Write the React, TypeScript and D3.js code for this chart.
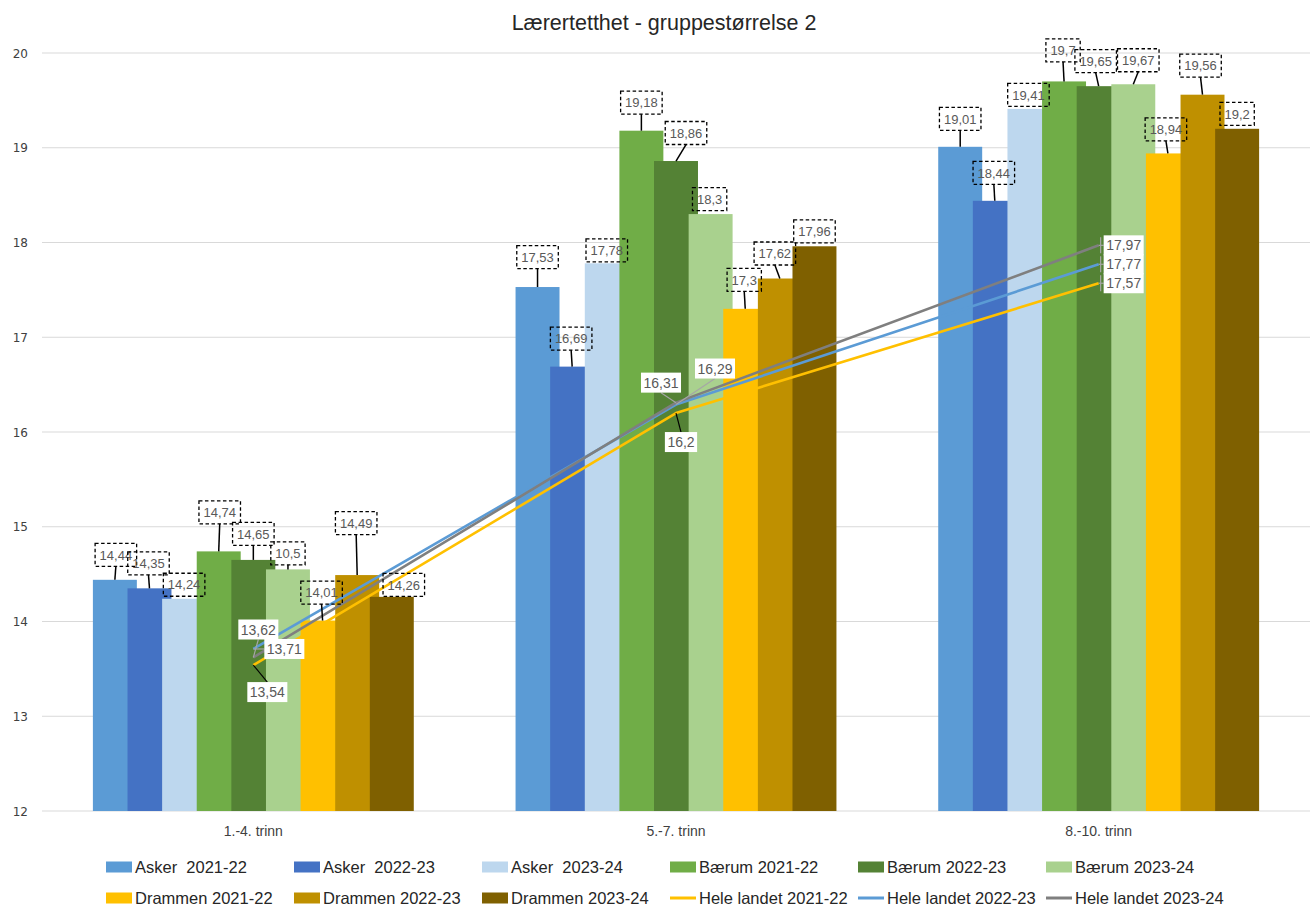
import React from 'react';
import * as d3 from 'd3';

const categories = ['1.-4. trinn', '5.-7. trinn', '8.-10. trinn'];

const barNames = [
  'Asker  2021-22', 'Asker  2022-23', 'Asker  2023-24',
  'Bærum 2021-22', 'Bærum 2022-23', 'Bærum 2023-24',
  'Drammen 2021-22', 'Drammen 2022-23', 'Drammen 2023-24',
];
const askerA = [14.44, 17.53, 19.01];
const askerB = [14.35, 16.69, 18.44];
const askerC = [14.24, 17.78, 19.41];
const baerumA = [14.74, 19.18, 19.7];
const baerumB = [14.65, 18.86, 19.65];
const baerumC = [14.55, 18.3, 19.67];
const drammenA = [14.01, 17.3, 18.94];
const drammenB = [14.49, 17.62, 19.56];
const drammenC = [14.26, 17.96, 19.2];
const barValues = [askerA, askerB, askerC, baerumA, baerumB, baerumC, drammenA, drammenB, drammenC];
// label text as printed in the chart (one label differs from its bar)
const barLabelOverride: (string | null)[][] = [
  [null, null, null], [null, null, null], [null, null, null],
  [null, null, null], [null, null, null], ['10,5', null, null],
  [null, null, null], [null, null, null], [null, null, null],
];
const barColors = ['#5B9BD5', '#4472C4', '#BDD7EE', '#70AD47', '#548235', '#A9D18E', '#FFC000', '#BF9000', '#7F6000'];

const lineNames = ['Hele landet 2021-22', 'Hele landet 2022-23', 'Hele landet 2023-24'];
const heleA = [13.54, 16.2, 17.57];
const heleB = [13.71, 16.29, 17.77];
const heleC = [13.62, 16.31, 17.97];
const lineValues = [heleA, heleB, heleC];
const lineColors = ['#FFC000', '#5B9BD5', '#7F7F7F'];

const yTicks = [12, 13, 14, 15, 16, 17, 18, 19, 20];

// layout: label box offsets [dx, dy] relative to bar top centre, per series per group
const barLabelOffsets: number[][][] = [
  [[1, -25], [0, -30], [0, -28]],
  [[-1, -25], [-1, -28], [-1, -28]],
  [[0, -14], [0, -13], [-1, -14]],
  [[1, -39], [0, -28], [-1, -31]],
  [[0, -26], [10, -28], [-3, -25]],
  [[0, -16], [-1, -15], [5, -24]],
  [[-1, -28], [-1, -29], [-2, -24]],
  [[-1, -52], [-5, -25], [-2, -29]],
  [[12, -12], [0, -15], [0, -15]],
];
// layout: line label offsets [dx, dy] relative to the point
const lineLabelOffsets: number[][][] = [
  [[14, 27], [5, 29], [25, 0]],
  [[31, 0], [39, -36], [25, 0]],
  [[5, -28], [-15, -20], [25, 0]],
];
const lineLeaderDark = [
  [true, true, false],
  [false, false, false],
  [false, false, false],
];

const W = 1314;
const H = 907;
const FONT = 'Liberation Sans, Arial, sans-serif';

const fmt = (v: number) => String(v).replace('.', ',');
const textW = (s: string, fs: number) =>
  s.split('').reduce((a, c) => a + (c === ',' || c === '.' ? 0.278 : 0.556), 0) * fs;

export default function App() {
  const left = 42, right = 1310, top = 53, bottom = 811;
  const y = d3.scaleLinear().domain([12, 20]).range([bottom, top]);
  const x0 = d3.scaleBand<string>().domain(categories).range([left, right]).padding(0);
  const bw = x0.bandwidth();
  const step = bw * 0.0819;
  const barW = bw * 0.104;
  const center = (g: number) => (x0(categories[g]) as number) + bw / 2;
  const barCx = (s: number, g: number) => center(g) + (s - (barNames.length - 1) / 2) * step;

  const line = d3.line<number>().x((_, i) => center(i)).y((d) => y(d));

  const legendItems = [
    ...barNames.map((n, i) => ({ name: n, color: barColors[i], type: 'bar' })),
    ...lineNames.map((n, i) => ({ name: n, color: lineColors[i], type: 'line' })),
  ];

  const labFs = 13;
  const lineFs = 14;

  return (
    <svg width={W} height={H} style={{ position: 'absolute', left: 0, top: 0, display: 'block', background: '#fff' }}>
      <rect x={0} y={0} width={W} height={H} fill="#fff" />
      <text x={664} y={30} textAnchor="middle" fontFamily={FONT} fontSize={21.5} fill="#262626">
        Lærertetthet - gruppestørrelse 2
      </text>

      {yTicks.map((t) => (
        <g key={t}>
          <line x1={left} x2={right} y1={y(t)} y2={y(t)} stroke="#D9D9D9" strokeWidth={1} />
          <text x={28} y={y(t) + 4.5} textAnchor="end" fontFamily="DejaVu Sans, sans-serif" fontSize={12} fill="#404040">
            {t}
          </text>
        </g>
      ))}

      {categories.map((c, g) => (
        <text key={c} x={center(g)} y={836} textAnchor="middle" fontFamily={FONT} fontSize={14} fill="#404040">
          {c}
        </text>
      ))}

      {barValues.map((vals, s) =>
        vals.map((v, g) => (
          <rect key={`b${s}-${g}`} x={barCx(s, g) - barW / 2} y={y(v)} width={barW} height={y(12) - y(v)} fill={barColors[s]} />
        ))
      )}

      {lineValues.map((vals, s) => (
        <path key={`l${s}`} d={line(vals) || ''} fill="none" stroke={lineColors[s]} strokeWidth={2.6} strokeLinejoin="round" />
      ))}

      {barValues.map((vals, s) =>
        vals.map((v, g) => {
          const label = barLabelOverride[s][g] ?? fmt(v);
          const tw = textW(label, labFs);
          const bwid = tw + 9;
          const bh = 23;
          const cx = barCx(s, g);
          const ty = y(v);
          const [dx, dy] = barLabelOffsets[s][g];
          const bx = cx + dx;
          const by = ty + dy;
          const boxBottom = by + bh / 2;
          return (
            <g key={`bl${s}-${g}`}>
              {ty - boxBottom > 4 && (
                <line x1={bx} y1={boxBottom} x2={cx} y2={ty} stroke="#000" strokeWidth={1.5} />
              )}
              <rect x={bx - bwid / 2} y={by - bh / 2} width={bwid} height={bh} fill="none" stroke="#000" strokeWidth={1.3} strokeDasharray="3.5,2.5" />
              <text x={bx} y={by + 4.7} textAnchor="middle" fontFamily={FONT} fontSize={labFs} fill="#595959">
                {label}
              </text>
            </g>
          );
        })
      )}

      {lineValues.map((vals, s) =>
        vals.map((v, g) => {
          const label = fmt(v);
          const tw = textW(label, lineFs);
          const bwid = tw + 5;
          const bh = 20;
          const px = center(g);
          const py = y(v);
          const [dx, dy] = lineLabelOffsets[s][g];
          const bx = px + dx;
          const by = py + dy;
          let lx = bx, ly = by;
          if (dy > bh / 2) { ly = by - bh / 2; }
          else if (dy < -bh / 2) { ly = by + bh / 2; }
          else { lx = bx - bwid / 2; ly = by; }
          const dark = lineLeaderDark[s][g];
          return (
            <g key={`ll${s}-${g}`}>
              <line x1={px} y1={py} x2={lx} y2={ly} stroke={dark ? '#000' : '#A6A6A6'} strokeWidth={1.2} />
              {g === 2 && (
                <path d={`M${bx - bwid / 2 - 3},${by - bh / 2 + 2} v${bh - 4}`} stroke="#A6A6A6" strokeWidth={1.2} fill="none" />
              )}
              <rect x={bx - bwid / 2} y={by - bh / 2} width={bwid} height={bh} fill="#fff" />
              <text x={bx} y={by + 5} textAnchor="middle" fontFamily={FONT} fontSize={lineFs} fill="#595959">
                {label}
              </text>
            </g>
          );
        })
      )}

      {legendItems.map((it, i) => {
        const col = i % 6;
        const row = Math.floor(i / 6);
        const lx = 106 + col * 188;
        const ly = row === 0 ? 867 : 898;
        return (
          <g key={`lg${i}`}>
            {it.type === 'bar' ? (
              <rect x={lx} y={ly - 5.5} width={26} height={11} fill={it.color} />
            ) : (
              <line x1={lx} x2={lx + 26} y1={ly} y2={ly} stroke={it.color} strokeWidth={3} />
            )}
            <text x={lx + 29} y={ly + 6} fontFamily={FONT} fontSize={16.5} fill="#262626" style={{ whiteSpace: 'pre' }}>
              {it.name}
            </text>
          </g>
        );
      })}
    </svg>
  );
}
